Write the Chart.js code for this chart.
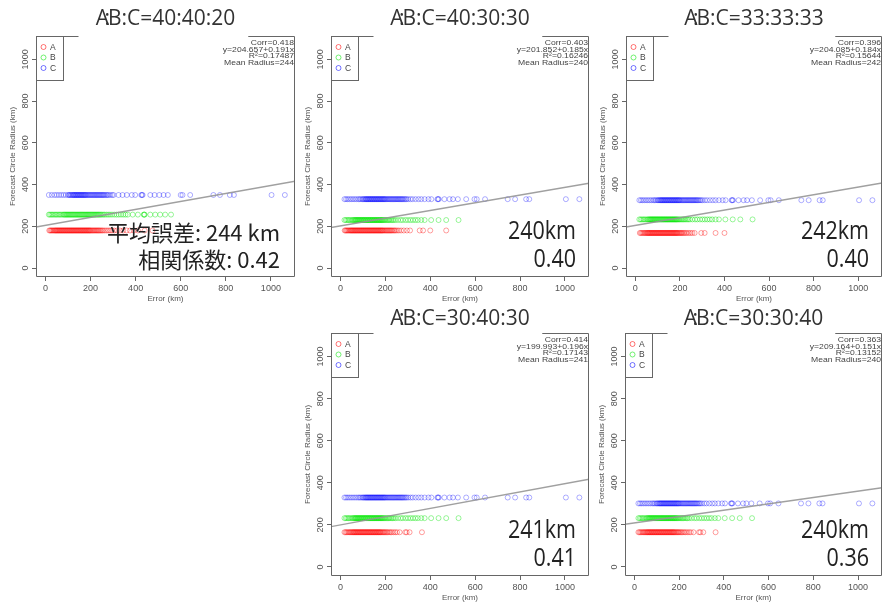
<!DOCTYPE html>
<html>
<head>
<meta charset="utf-8">
<script src="https://cdn.jsdelivr.net/npm/chart.js@4.4.1/dist/chart.umd.min.js"></script>
<style>
  html, body { margin: 0; padding: 0; background: #fff; overflow: hidden; }
  body { width: 883px; height: 607px; position: relative; }
  canvas { position: absolute; }
</style>
</head>
<body>
<canvas id="p0"></canvas>
<canvas id="p1"></canvas>
<canvas id="p2"></canvas>
<canvas id="p3"></canvas>
<canvas id="p4"></canvas>
<script>
// ---- data ----
const ratios = ['40:40:20', '40:30:30', '33:33:33', '30:40:30', '30:30:40'];
const radiusA = [180, 180, 168, 165, 165];
const radiusB = [256, 230, 233, 232, 232];
const radiusC = [350, 330, 325, 330, 302];
const corr = ['0.418', '0.403', '0.396', '0.414', '0.363'];
const intercept = [204.657, 201.852, 204.085, 199.993, 209.164];
const slope = [0.191, 0.185, 0.184, 0.196, 0.151];
const rSquared = ['0.17487', '0.16246', '0.15644', '0.17143', '0.13152'];
const meanRadius = [244, 240, 242, 241, 240];
const noteLine1 = ['平均誤差: 244 km', '240km', '242km', '241km', '240km'];
const noteLine2 = ['相関係数: 0.42', '0.40', '0.40', '0.41', '0.36'];

// errors (km) of each group
const errA1 = [17, 21, 25, 29, 33, 37, 41, 44, 47, 50, 53, 56, 59, 62, 65, 68, 71, 74, 77, 80, 83, 86, 89, 92, 95, 98, 101, 104, 107, 110, 113, 116, 119, 122, 125, 128, 131, 134, 137, 140, 143, 146, 149, 152, 155, 158, 161, 164, 167, 170, 173, 176, 179, 182, 185, 188, 191, 194, 197, 200, 204, 208, 212, 216, 220, 224, 228, 232, 236, 240, 245, 250, 255, 262, 270, 278, 286, 295, 305, 318, 330, 345, 360, 375, 392, 410, 440, 475];
const errA2 = [19, 23, 27, 31, 35, 39, 43, 46, 49, 52, 55, 58, 61, 64, 67, 70, 73, 76, 79, 82, 85, 88, 91, 94, 97, 100, 103, 106, 109, 112, 115, 118, 121, 124, 127, 130, 133, 136, 139, 142, 145, 148, 151, 154, 157, 160, 163, 166, 169, 172, 175, 178, 181, 184, 187, 190, 194, 198, 202, 206, 210, 214, 218, 222, 226, 230, 235, 240, 245, 252, 260, 270, 282, 296, 310, 353, 368, 400, 471];
const errA3 = [20, 25, 30, 35, 40, 44, 48, 52, 55, 58, 61, 64, 67, 70, 73, 76, 79, 82, 85, 88, 91, 94, 97, 100, 103, 106, 109, 112, 115, 118, 121, 124, 127, 130, 133, 136, 139, 142, 145, 148, 151, 154, 157, 160, 163, 166, 169, 172, 175, 178, 181, 184, 187, 190, 194, 198, 202, 206, 210, 215, 220, 226, 232, 240, 248, 256, 266, 296, 311, 360, 400];
const errA45 = [18, 23, 28, 33, 38, 42, 46, 50, 54, 57, 60, 63, 66, 69, 72, 75, 78, 81, 84, 87, 90, 93, 96, 99, 102, 105, 108, 111, 114, 117, 120, 123, 126, 129, 132, 135, 138, 141, 144, 147, 150, 153, 156, 159, 162, 165, 168, 171, 174, 177, 180, 184, 188, 192, 196, 200, 205, 210, 216, 222, 228, 236, 244, 252, 264, 289, 295, 308, 363];
const errB1 = [15, 20, 26, 32, 38, 44, 50, 56, 62, 68, 74, 80, 84, 88, 92, 96, 100, 104, 108, 112, 116, 120, 124, 128, 132, 136, 140, 144, 148, 152, 156, 160, 164, 168, 172, 176, 180, 184, 188, 192, 196, 200, 204, 208, 212, 216, 220, 224, 228, 232, 236, 240, 245, 250, 256, 262, 270, 278, 286, 295, 305, 315, 325, 335, 345, 355, 365, 387, 410, 436, 438, 440, 465, 487, 509, 531, 557];
const errB = [18, 24, 30, 36, 42, 48, 54, 58, 62, 65, 68, 71, 74, 77, 80, 83, 86, 89, 92, 95, 98, 101, 104, 107, 110, 113, 116, 119, 122, 125, 128, 131, 134, 137, 140, 143, 146, 149, 152, 155, 158, 161, 164, 167, 170, 173, 176, 179, 182, 185, 188, 192, 196, 200, 205, 210, 215, 220, 226, 232, 238, 245, 256, 268, 278, 290, 301, 312, 323, 334, 345, 360, 375, 404, 437, 471, 526];
const errC1 = [15, 28, 40, 50, 60, 70, 80, 90, 100, 104, 108, 112, 116, 120, 123, 126, 129, 132, 135, 138, 141, 144, 147, 150, 153, 156, 159, 162, 165, 168, 171, 174, 177, 180, 184, 188, 192, 196, 200, 204, 208, 212, 216, 220, 224, 228, 232, 236, 240, 244, 248, 252, 256, 260, 265, 270, 275, 280, 288, 296, 302, 324, 342, 361, 383, 398, 425, 428, 431, 465, 484, 505, 524, 543, 600, 608, 642, 745, 774, 818, 836, 1003, 1062];
const errC = [18, 25, 32, 40, 48, 56, 64, 72, 80, 86, 92, 98, 102, 106, 110, 113, 116, 119, 122, 125, 128, 131, 134, 137, 140, 143, 146, 149, 152, 155, 158, 161, 164, 167, 170, 173, 176, 179, 182, 185, 188, 191, 194, 197, 200, 204, 208, 212, 216, 220, 224, 228, 232, 236, 240, 244, 248, 252, 256, 260, 264, 268, 272, 276, 280, 285, 290, 295, 302, 312, 322, 335, 348, 360, 375, 392, 405, 432, 435, 438, 463, 486, 501, 523, 560, 597, 607, 644, 745, 778, 827, 841, 1004, 1064];

const errA = [errA1, errA2, errA3, errA45, errA45];
const errBList = [errB1, errB, errB, errB, errB];
const errCList = [errC1, errC, errC, errC, errC];

// ---- layout ----
const boxes = [[36, 36, 295, 277], [331, 36, 589, 277], [626, 36, 882, 277], [331, 333, 589, 576], [625, 333, 882, 576]];
const titleGap = [11, 11, 11, 8, 8];
const xMin = -42, xMax = 1107, yMin = -43, yMax = 1112;
const rFont = '"Liberation Sans", Arial, sans-serif';
const colA = 'rgba(255, 0, 0, 0.38)';
const colB = 'rgba(0, 230, 0, 0.4)';
const colC = 'rgba(0, 0, 255, 0.32)';
const axisGray = '#666';
const textGray = '#555';

function points(errs, radius, color) {
  return {
    label: '',
    data: errs.map(e => ({ x: e, y: radius })),
    borderColor: color,
    backgroundColor: 'rgba(0,0,0,0)',
    borderWidth: 1,
    pointRadius: 2.5,
    pointHoverRadius: 2.5
  };
}

function decor(i) {
  return {
    id: 'decor' + i,
    afterDraw(chart) {
      const ctx = chart.ctx;
      const a = chart.chartArea;
      const L = a.left + 0.5, R = a.right - 0.5, T = a.top + 0.5, B = a.bottom - 0.5;
      ctx.save();

      // stats text top right
      const stats = ['Corr=' + corr[i], 'y=' + intercept[i].toFixed(3) + '+' + slope[i].toFixed(3) + 'x', 'R\u00b2=' + rSquared[i], 'Mean Radius=' + meanRadius[i]];
      ctx.font = '8.6px ' + rFont;
      ctx.fillStyle = '#444';
      ctx.textAlign = 'right';
      ctx.textBaseline = 'middle';
      stats.forEach((s, k) => {
        ctx.save();
        ctx.translate(a.right - 1, a.top + 6.7 + k * 6.8);
        ctx.scale(1, 0.85);
        ctx.fillText(s, 0, 0);
        ctx.restore();
      });
      const corrW = ctx.measureText(stats[0]).width + 3;

      // plot box (top edge is broken like the original)
      ctx.strokeStyle = axisGray;
      ctx.lineWidth = 1;
      ctx.beginPath();
      ctx.moveTo(L + 42, T); ctx.lineTo(L, T); ctx.lineTo(L, B); ctx.lineTo(R, B); ctx.lineTo(R, T); ctx.lineTo(R - corrW, T);
      ctx.stroke();

      // legend
      ctx.strokeRect(L, T, 27, 44);
      const legCols = [colA, colB, colC];
      ['A', 'B', 'C'].forEach((lab, k) => {
        const yy = a.top + 11 + k * 10.5;
        ctx.beginPath();
        ctx.arc(a.left + 7.5, yy, 2.5, 0, Math.PI * 2);
        ctx.strokeStyle = legCols[k].replace(/[\d.]+\)$/, '0.55)');
        ctx.stroke();
        ctx.fillStyle = '#444';
        ctx.font = '8.5px ' + rFont;
        ctx.textAlign = 'left';
        ctx.fillText(lab, a.left + 14, yy + 0.5);
      });

      // rotated y tick labels
      const ys = chart.scales.y;
      ctx.fillStyle = textGray;
      ctx.font = '9px ' + rFont;
      ctx.textAlign = 'center';
      ctx.textBaseline = 'middle';
      ys.ticks.forEach(t => {
        const yy = ys.getPixelForValue(t.value);
        ctx.save();
        ctx.translate(a.left - 10, yy);
        ctx.rotate(-Math.PI / 2);
        ctx.fillText(String(t.value), 0, 0);
        ctx.restore();
      });

      // panel title
      ctx.fillStyle = '#333';
      ctx.font = '21px "Open Sans", sans-serif';
      ctx.textBaseline = 'alphabetic';
      ctx.textAlign = 'left';
      const rest = 'B:C=' + ratios[i];
      const wA = ctx.measureText('A').width;
      const wCol = ctx.measureText(':').width;
      const total = wA - 1 + ctx.measureText(rest).width;
      const x0 = (a.left + a.right) / 2 - total / 2;
      const ty = a.top - titleGap[i];
      ctx.fillText('A', x0, ty);
      ctx.fillText(':', x0 + wA - wCol * 0.8, ty);
      ctx.fillText(rest, x0 + wA - 1, ty);

      // big note text
      ctx.fillStyle = '#222';
      ctx.textAlign = 'right';
      if (i === 0) {
        ctx.font = '22px "Noto Sans CJK JP", sans-serif';
        ctx.fillText(noteLine1[i], a.right - 15, a.bottom - 36.5);
        ctx.fillText(noteLine2[i], a.right - 15, a.bottom - 9);
      } else {
        ctx.font = '25px "Open Sans", sans-serif';
        const rx = a.right - 13;
        [[noteLine1[i], a.bottom - 38], [noteLine2[i], a.bottom - 10.5]].forEach(([s, by]) => {
          ctx.save();
          ctx.translate(rx, by);
          ctx.scale(0.86, 1);
          ctx.fillText(s, 0, 0);
          ctx.restore();
        });
      }
      ctx.restore();
    }
  };
}

function makePanel(i) {
  const [bl, bt, br, bb] = boxes[i];
  const canvas = document.getElementById('p' + i);
  const w = 36 + (br - bl) + 6;
  const h = 36 + (bb - bt) + 30;
  canvas.width = w;
  canvas.height = h;
  canvas.style.left = (bl - 36) + 'px';
  canvas.style.top = (bt - 36) + 'px';
  canvas.style.width = w + 'px';
  canvas.style.height = h + 'px';

  new Chart(canvas, {
    type: 'scatter',
    data: {
      datasets: [
        {
          type: 'line',
          label: '',
          data: [{ x: xMin, y: intercept[i] + slope[i] * xMin }, { x: xMax, y: intercept[i] + slope[i] * xMax }],
          borderColor: 'rgba(150,150,150,0.9)',
          borderWidth: 1.4,
          pointRadius: 0,
          fill: false
        },
        points(errA[i], radiusA[i], colA),
        points(errBList[i], radiusB[i], colB),
        points(errCList[i], radiusC[i], colC)
      ]
    },
    options: {
      responsive: false,
      animation: false,
      devicePixelRatio: 1,
      events: [],
      layout: { padding: { left: 0, top: 36, right: 6, bottom: 0 } },
      plugins: { legend: { display: false }, tooltip: { enabled: false } },
      scales: {
        x: {
          type: 'linear',
          min: xMin,
          max: xMax,
          afterFit: s => { s.height = 30; },
          ticks: { stepSize: 200, includeBounds: false, maxRotation: 0, padding: 2, color: textGray, font: { family: rFont, size: 9 }, callback: v => String(v) },
          grid: { display: true, drawOnChartArea: false, drawTicks: true, tickLength: 4, color: axisGray },
          border: { display: false },
          title: { display: true, text: 'Error (km)', color: textGray, font: { family: rFont, size: 8 }, padding: { top: 0, bottom: 3.2 } }
        },
        y: {
          type: 'linear',
          min: yMin,
          max: yMax,
          afterFit: s => { s.width = 36; },
          ticks: { stepSize: 200, includeBounds: false, color: 'rgba(0,0,0,0)', font: { family: rFont, size: 9 } },
          grid: { display: true, drawOnChartArea: false, drawTicks: true, tickLength: 4, color: axisGray },
          border: { display: false },
          title: { display: true, text: 'Forecast Circle Radius (km)', color: textGray, font: { family: rFont, size: 8 }, padding: { top: 8, bottom: 0 } }
        }
      }
    },
    plugins: [decor(i)]
  });
}

[0, 1, 2, 3, 4].forEach(makePanel);
</script>
</body>
</html>
